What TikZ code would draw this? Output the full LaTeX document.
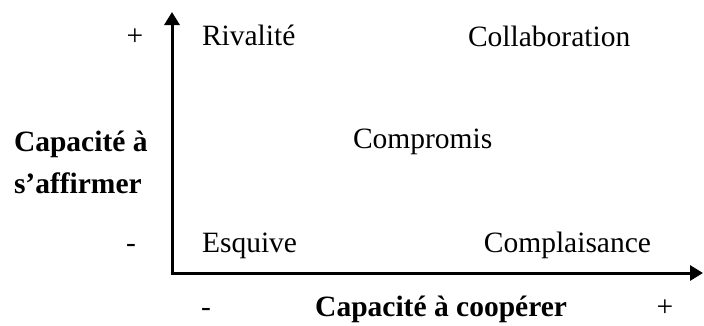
\documentclass[tikz,border=0pt]{standalone}
\usepackage{fontspec}
\setmainfont{Liberation Serif}
\usetikzlibrary{arrows.meta}
\tikzset{
  lbl/.style={inner sep=0pt, outer sep=0pt, font=\fontsize{29.5}{35}\selectfont},
  blbl/.style={lbl, font=\fontsize{29.5}{35}\selectfont\bfseries},
  axis/.style={line width=3pt, -{Triangle[width=15pt,length=13pt]}}
}
\begin{document}
\begin{tikzpicture}[x=1pt,y=1pt]
\useasboundingbox (0,0) rectangle (704,325);
% axes
\coordinate (O) at (172,52);
\coordinate (ytip) at (172,313);
\coordinate (xtip) at (703,52);
\draw[axis] ([yshift=-1.5pt]O) -- (ytip);
\draw[axis] ([xshift=-1.5pt]O) -- (xtip);
% quadrant labels
\node[lbl, anchor=base west] (riv) at (202,280) {Rivalité};
\node[lbl, anchor=base west] (col) at (468,279) {Collaboration};
\node[lbl, anchor=base west] (com) at (353,177) {Compromis};
\node[lbl, anchor=base west] (esq) at (202,73) {Esquive};
\node[lbl, anchor=base east] (cpl) at (651,73) {Complaisance};
% y axis signs and title
\node[lbl, anchor=base] (yplus) at (135,280) {+};
\node[lbl, anchor=base] (yminus) at (131,73) {-};
\node[blbl, anchor=base west] (ytitle1) at (14,174) {Capacité à};
\node[blbl, anchor=base west] (ytitle2) at (14,132) {s’affirmer};
% x axis signs and title
\node[lbl, anchor=base] (xminus) at (206,9) {-};
\node[lbl, anchor=base] (xplus) at (665,9) {+};
\node[blbl, anchor=base east] (xtitle) at (567,9) {Capacité à coopérer};
\end{tikzpicture}
\end{document}
